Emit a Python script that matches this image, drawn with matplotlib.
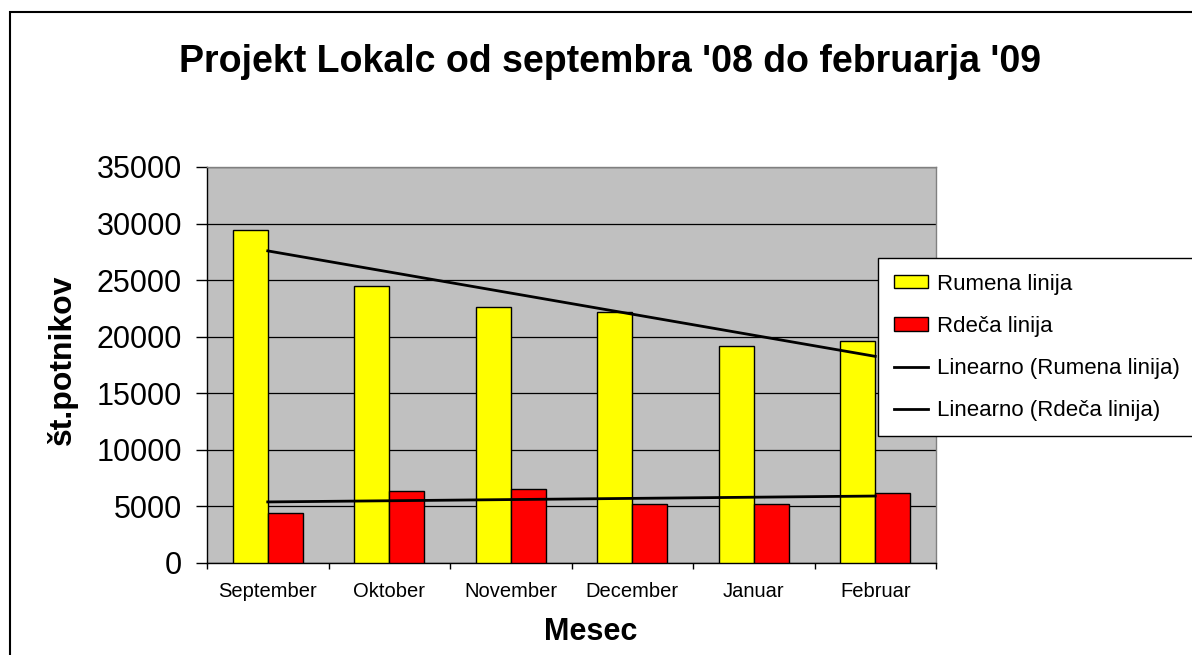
import numpy as np
import matplotlib
matplotlib.use("Agg")
import matplotlib.pyplot as plt
from matplotlib.patches import Rectangle

categories = ["September", "Oktober", "November", "December", "Januar", "Februar"]
rumena = [29450, 24450, 22650, 22150, 19200, 19650]
rdeca = [4450, 6400, 6500, 5250, 5200, 6150]
yticks = [0, 5000, 10000, 15000, 20000, 25000, 30000, 35000]

plt.rcParams['font.family'] = ['Liberation Sans', 'DejaVu Sans']

W, H = 1192, 655
fig = plt.figure(figsize=(W / 100, H / 100), dpi=100)
fig.patch.set_facecolor('white')

# outer chart border
fig.patches.append(Rectangle((10 / W, -0.1), 1.2, 1 - 12 / H + 0.1, transform=fig.transFigure,
                             fill=False, edgecolor='black', linewidth=1.5, zorder=0))

ax = fig.add_axes([207 / W, 1 - 563 / H, (936 - 207) / W, (563 - 167) / H])
ax.set_facecolor('#C0C0C0')

x = np.arange(len(categories))
bw = 0.288
h1 = ax.bar(x - bw / 2, rumena, width=bw, color='#FFFF00', edgecolor='black', linewidth=1.0,
            label='Rumena linija', zorder=3)
h2 = ax.bar(x + bw / 2, rdeca, width=bw, color='#FF0000', edgecolor='black', linewidth=1.0,
            label='Rdeča linija', zorder=3)

xs = np.arange(1, len(categories) + 1)
lines = []
for vals, lab in [(rumena, 'Linearno (Rumena linija)'), (rdeca, 'Linearno (Rdeča linija)')]:
    p = np.polyfit(xs, vals, 1)
    ln, = ax.plot(x, np.polyval(p, xs), color='black', linewidth=2.0, label=lab, zorder=4)
    lines.append(ln)

ax.set_xlim(-0.5, len(categories) - 0.5)
ax.set_ylim(0, 35000)
ax.set_yticks(yticks)
ax.set_yticklabels([str(v) for v in yticks], fontsize=22)
ax.tick_params(axis='y', direction='out', length=8, width=1, pad=10, color='black')

ax.set_xticks(np.arange(-0.5, len(categories), 1.0))
ax.set_xticklabels([])
ax.set_xticks(x, minor=True)
ax.set_xticklabels(categories, minor=True, fontsize=14.5)
ax.tick_params(axis='x', which='major', direction='out', length=4.5, width=1)
ax.tick_params(axis='x', which='minor', length=0, pad=14)

ax.grid(axis='y', color='black', linewidth=0.9, zorder=1)
ax.set_axisbelow(True)
for s in ['top', 'right']:
    ax.spines[s].set_color('#808080')
    ax.spines[s].set_linewidth(1.0)
for s in ['left', 'bottom']:
    ax.spines[s].set_color('black')
    ax.spines[s].set_linewidth(1.0)

fig.text(610 / W, 1 - 72 / H, "Projekt Lokalc od septembra '08 do februarja '09",
         fontsize=27, fontweight='bold', ha='center', va='baseline')
fig.text(62 / W, 1 - 360 / H, "št.potnikov", fontsize=23, fontweight='bold',
         rotation=90, ha='center', va='center')
fig.text(591 / W, 1 - 640 / H, "Mesec", fontsize=22, fontweight='bold',
         ha='center', va='baseline')

leg = ax.legend(handles=[h1, h2] + lines, loc='upper left', bbox_to_anchor=(878 / W, 1 - 258 / H),
                bbox_transform=fig.transFigure, fontsize=16, frameon=True, fancybox=False,
                borderpad=0.7, labelspacing=0.95, handlelength=1.55, handleheight=0.55,
                handletextpad=0.4, borderaxespad=0)
leg.get_frame().set_edgecolor('black')
leg.get_frame().set_linewidth(1.0)
leg.get_frame().set_facecolor('white')
leg.get_frame().set_alpha(1)
leg.set_zorder(10)

fig.savefig('out.png', dpi=100)
